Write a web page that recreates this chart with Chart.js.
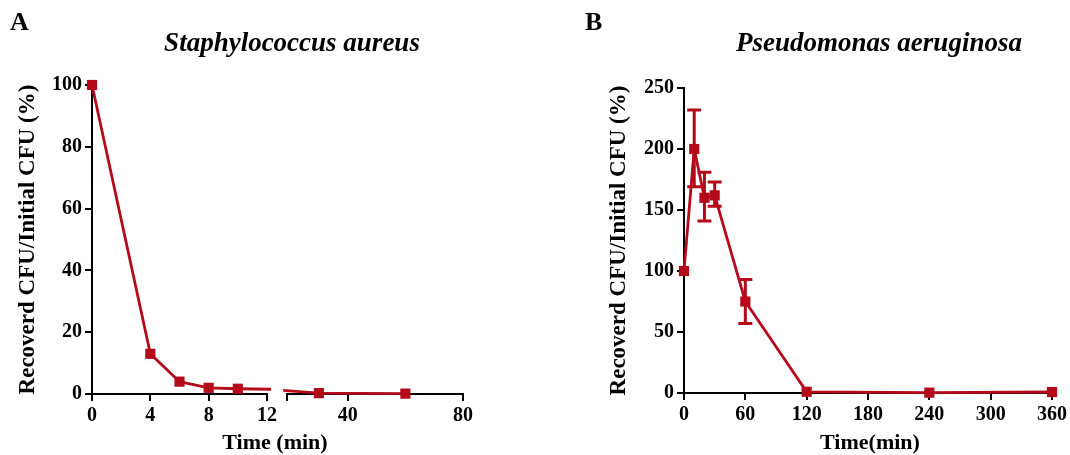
<!DOCTYPE html>
<html>
<head>
<meta charset="utf-8">
<script src="https://cdn.jsdelivr.net/npm/chart.js@4.4.0/dist/chart.umd.min.js"></script>
<style>
  html, body { margin: 0; padding: 0; background: #fff; }
  #wrap { position: relative; width: 1070px; height: 455px; overflow: hidden; background: #fff; }
  canvas { position: absolute; top: 0; }
  .txt { position: absolute; font-family: "Liberation Serif", "Times New Roman", serif; font-weight: bold; color: #000; line-height: 1; white-space: nowrap; }
  .panel { font-size: 26px; }
  .species { font-size: 27px; font-style: italic; transform: translateX(-50%); }
  .xtitle { font-size: 22px; transform: translateX(-50%); }
</style>
</head>
<body>
<div id="wrap">
  <canvas id="aLeft" width="280" height="455" style="left:0px"></canvas>
  <canvas id="aRight" width="200" height="455" style="left:280px"></canvas>
  <canvas id="bChart" width="490" height="455" style="left:580px"></canvas>
  <div class="txt panel" style="left:10px; top:9px;">A</div>
  <div class="txt panel" style="left:585px; top:9px;">B</div>
  <div class="txt species" style="left:292px; top:29px;">Staphylococcus aureus</div>
  <div class="txt species" style="left:879px; top:29px;">Pseudomonas aeruginosa</div>
  <div class="txt xtitle" style="left:275px; top:431px;">Time (min)</div>
  <div class="txt xtitle" style="left:870px; top:431px;">Time(min)</div>
</div>
<script>
// ---- Data ----
const timesA = [0, 4, 6, 8, 10, 30, 60];
const recoveredA = [100, 13, 4, 2, 1.7, 0.3, 0.1];

const timesB = [0, 10, 20, 30, 60, 120, 240, 360];
const recoveredB = [100, 200, 160, 162, 75, 1, 0.3, 0.8];
const errLowB = [null, 169, 141, 153, 57, null, null, null];
const errHighB = [null, 232, 181, 173, 93, null, null, null];

const xTicksALeft = [0, 4, 8, 12];
const xTicksARight = [40, 80];
const yTicksA = [0, 20, 40, 60, 80, 100];
const xTicksB = [0, 60, 120, 180, 240, 300, 360];
const yTicksB = [0, 50, 100, 150, 200, 250];

const yTitle = 'Recoverd CFU/Initial CFU (%)';

// ---- Style ----
const RED = '#b40a1a';
const FAMILY = '"Liberation Serif", "Times New Roman", serif';
const tickFont = { family: FAMILY, size: 20, weight: 'bold' };
const yTitleFont = { family: FAMILY, size: 23, weight: 'bold' };

function pts(xs, ys) { return xs.map((x, i) => ({ x: x, y: ys[i] })); }

function lineDataset(xs, ys, clip) {
  return {
    data: pts(xs, ys),
    borderColor: RED,
    backgroundColor: RED,
    borderWidth: 2.8,
    pointStyle: 'rect',
    pointRadius: 7.2,
    pointHoverRadius: 7.2,
    pointBorderWidth: 0,
    tension: 0,
    clip: clip
  };
}

function gridOpts() {
  return { display: true, drawOnChartArea: false, drawTicks: true, tickLength: 7, color: '#000', lineWidth: 2 };
}
function borderOpts() { return { display: true, color: '#000', width: 2 }; }

function fixedTicks(list) {
  return function (scale) { scale.ticks = list.map(v => ({ value: v })); };
}

const baseOpts = {
  responsive: false,
  animation: false,
  devicePixelRatio: 1,
  plugins: { legend: { display: false }, tooltip: { enabled: false }, title: { display: false } },
  events: []
};

// ---- Error bar plugin (uses chart scales) ----
const errorBars = {
  id: 'errorBars',
  afterDatasetsDraw(chart) {
    const xs = chart.scales.x, ys = chart.scales.y, ctx = chart.ctx;
    ctx.save();
    ctx.strokeStyle = RED;
    ctx.lineWidth = 3;
    timesB.forEach((t, i) => {
      if (errLowB[i] == null) return;
      const px = xs.getPixelForValue(t);
      const pl = ys.getPixelForValue(errLowB[i]);
      const ph = ys.getPixelForValue(errHighB[i]);
      const cap = 7;
      ctx.beginPath();
      ctx.moveTo(px, pl); ctx.lineTo(px, ph);
      ctx.moveTo(px - cap, ph); ctx.lineTo(px + cap, ph);
      ctx.moveTo(px - cap, pl); ctx.lineTo(px + cap, pl);
      ctx.stroke();
    });
    ctx.restore();
  }
};

// ---- Panel A left segment (0-12 min) ----
new Chart(document.getElementById('aLeft'), {
  type: 'line',
  data: { datasets: [lineDataset(timesA, recoveredA, { left: 12, top: 12, right: 4, bottom: 12 })] },
  options: Object.assign({}, baseOpts, {
    layout: { padding: { top: 85, right: 12, bottom: 0, left: 0 } },
    scales: {
      x: {
        type: 'linear', min: 0, max: 12,
        afterBuildTicks: fixedTicks(xTicksALeft),
        afterFit: s => { s.height = 61; },
        grid: gridOpts(), border: borderOpts(),
        ticks: { font: tickFont, color: '#000', padding: 3, maxRotation: 0, autoSkip: false }
      },
      y: {
        type: 'linear', min: 0, max: 100,
        afterBuildTicks: fixedTicks(yTicksA),
        afterFit: s => { s.width = 92; },
        grid: gridOpts(), border: borderOpts(),
        ticks: { font: tickFont, color: '#000', padding: 3, autoSkip: false },
        title: { display: true, text: yTitle, color: '#000', font: yTitleFont, padding: { top: 14, bottom: 0 } }
      }
    }
  })
});

// ---- Panel A right segment (after axis break) ----
new Chart(document.getElementById('aRight'), {
  type: 'line',
  data: { datasets: [lineDataset(timesA, recoveredA, { left: 4, top: 12, right: 12, bottom: 12 })] },
  options: Object.assign({}, baseOpts, {
    layout: { padding: { top: 85, right: 17, bottom: 0, left: 7 } },
    scales: {
      x: {
        type: 'linear', min: 19, max: 80,
        afterBuildTicks: fixedTicks([19].concat(xTicksARight)),
        afterFit: s => { s.height = 61; },
        grid: gridOpts(), border: borderOpts(),
        ticks: { font: tickFont, color: '#000', padding: 3, maxRotation: 0, autoSkip: false,
                 callback: v => (xTicksARight.includes(v) ? String(v) : '') }
      },
      y: { type: 'linear', min: 0, max: 100, display: false }
    }
  })
});

// ---- Panel B ----
new Chart(document.getElementById('bChart'), {
  type: 'line',
  data: { datasets: [lineDataset(timesB, recoveredB, 12)] },
  options: Object.assign({}, baseOpts, {
    layout: { padding: { top: 88, right: 17, bottom: 0, left: 0 } },
    scales: {
      x: {
        type: 'linear', min: 0, max: 360,
        afterBuildTicks: fixedTicks(xTicksB),
        afterFit: s => { s.height = 62; },
        grid: gridOpts(), border: borderOpts(),
        ticks: { font: tickFont, color: '#000', padding: 3, maxRotation: 0, autoSkip: false }
      },
      y: {
        type: 'linear', min: 0, max: 250,
        afterBuildTicks: fixedTicks(yTicksB),
        afterFit: s => { s.width = 104; },
        grid: gridOpts(), border: borderOpts(),
        ticks: { font: tickFont, color: '#000', padding: 3, autoSkip: false },
        title: { display: true, text: yTitle, color: '#000', font: yTitleFont, padding: { top: 25, bottom: 0 } }
      }
    }
  }),
  plugins: [errorBars]
});
</script>
</body>
</html>
